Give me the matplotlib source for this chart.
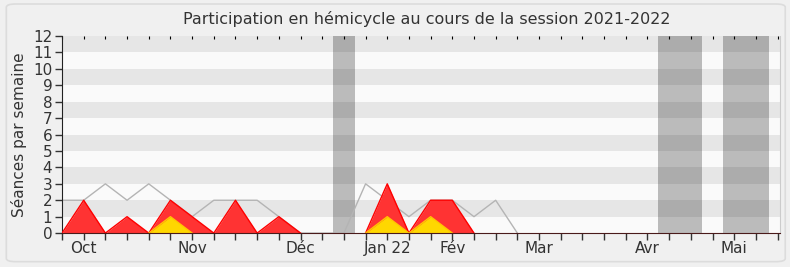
import matplotlib
matplotlib.use("Agg")
import matplotlib.pyplot as plt
from matplotlib.patches import FancyBboxPatch
import numpy as np

# one value per week, week 0 = last week of september 2021
weeks = list(range(22))
seances_total = [2, 2, 3, 2, 3, 2, 1, 2, 2, 2, 1, 0, 0, 0, 3, 2, 1, 2, 2, 1, 2, 0]
presences = [0, 2, 0, 1, 0, 2, 1, 0, 2, 0, 1, 0, 0, 0, 0, 3, 0, 2, 2, 0, 0, 0]
interventions = [0, 0, 0, 0, 0, 1, 0, 0, 0, 0, 0, 0, 0, 0, 0, 1, 0, 1, 0, 0, 0, 0]

# vacances parlementaires (in week units)
vacances = [(12.5, 13.5), (27.5, 29.5), (30.5, 32.6)]

month_pos = [1, 6, 11, 15, 18, 22, 27, 31]
month_labels = ["Oct", "Nov", "Déc", "Jan 22", "Fév", "Mar", "Avr", "Mai"]

n_weeks = 33.1
ymax = 12


def hide_flat_zero(vals):
    # keep the outline only where it is not lying on the axis
    v = np.array(vals, dtype=float)
    out = v.copy()
    for i in range(len(v)):
        left = v[i - 1] if i > 0 else 0
        right = v[i + 1] if i < len(v) - 1 else 0
        if v[i] == 0 and left == 0 and right == 0:
            out[i] = np.nan
    return out


fig = plt.figure(figsize=(7.9, 2.67), dpi=100)
fig.patch.set_facecolor("#f0f0f0")
frame = FancyBboxPatch((0.008, 0.02), 0.986, 0.965, boxstyle="round,pad=0,rounding_size=0.012",
                       transform=fig.transFigure, facecolor="#f0f0f0", edgecolor="#dcdcdc",
                       linewidth=1.2, zorder=-10)
fig.patches.append(frame)

ax = fig.add_axes([0.0785, 0.127, 0.9085, 0.738])
ax.set_facecolor("#fafafa")

# horizontal stripes
for i in range(ymax):
    if i % 2 == 1:
        ax.axhspan(i, i + 1, color="#e6e6e6", lw=0, zorder=0)

for a, b in vacances:
    ax.axvspan(a, b, color="black", alpha=0.25, lw=0, zorder=1)

ax.plot(weeks, seances_total, color="#b4b4b4", lw=1, zorder=2)
ax.fill_between(weeks, presences, color="#ff3333", lw=0, zorder=3)
ax.plot(weeks, hide_flat_zero(presences), color="#ff0000", lw=1, zorder=4)
ax.fill_between(weeks, interventions, color="#ffd700", lw=0, zorder=5)
ax.plot(weeks, hide_flat_zero(interventions), color="#ffc800", lw=1, zorder=6)

ax.set_xlim(0, n_weeks)
ax.set_ylim(0, ymax)

ax.set_yticks(range(0, ymax + 1))
ax.tick_params(axis="y", labelsize=11, colors="#333333", length=5, width=1, pad=2)
ax.set_xticks(np.arange(0, 34), minor=True)
ax.set_xticks(month_pos)
ax.set_xticklabels(month_labels)
ax.tick_params(axis="x", which="both", length=5, width=1, colors="#333333", labelsize=11, pad=1)

# top small ticks pointing inward
secax = ax.secondary_xaxis("top")
secax.set_xticks(np.arange(0, 34))
secax.tick_params(length=2, direction="in", labeltop=False, color="#000000")
secax.spines["top"].set_visible(False)

ax.spines["top"].set_visible(False)
ax.spines["right"].set_color("#cccccc")
ax.spines["left"].set_color("#222222")
ax.spines["bottom"].set_color("#4a1a1a")
ax.spines["bottom"].set_zorder(7)

ax.set_ylabel("Séances par semaine", fontsize=11, color="#333333", labelpad=4)
fig.text(0.54, 0.93, "Participation en hémicycle au cours de la session 2021-2022",
         ha="center", va="center", fontsize=11.5, color="#333333")

fig.savefig("out.png", dpi=100, facecolor=fig.get_facecolor())
